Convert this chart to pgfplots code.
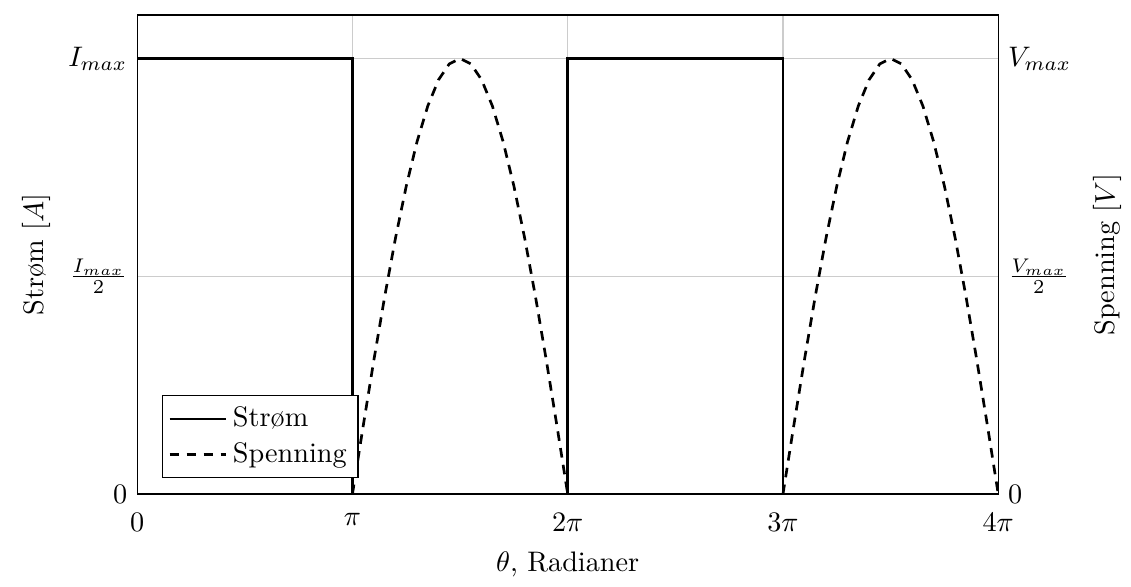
\documentclass[border=0pt]{standalone}
\usepackage{pgfplots}
\pgfplotsset{compat=1.18}
\begin{document}
\begin{tikzpicture}
\begin{axis}[
  name=main,
  width=305pt, height=169.7pt, scale only axis,
  xmin=0, xmax=4, ymin=0, ymax=1.1,
  xtick={0,1,2,3,4},
  xticklabels={$0$,$\pi$,$2\pi$,$3\pi$,$4\pi$},
  xticklabel style={yshift=-3.2pt},
  ytick={0,0.5,1},
  yticklabels={$0$,$\frac{I_{max}}{2}$,$I_{max}$},
  xmajorgrids, ymajorgrids,
  major grid style={gray!40, thin},
  major tick length=0pt,
  xlabel={$\theta$, Radianer},
  xlabel style={yshift=-0.6pt},
  ylabel={Strøm [$A$]},
  ylabel style={yshift=-0.5pt},
  legend image code/.code={\draw[#1] (0cm,0cm) -- (0.7cm,0cm);},
  legend style={at={(0.029,0.033)}, anchor=south west, draw=black, inner sep=2pt, row sep=0pt},
  legend cell align=left,
]
\addplot[black, line width=0.95pt] coordinates {(0,1) (1,1) (1,0) (2,0) (2,1) (3,1) (3,0) (4,0)};
\addlegendentry{Strøm}
\addplot[black, line width=0.95pt, dash pattern=on 3.4pt off 2.6pt] coordinates {
(1.00,0.0000) (1.05,0.1564) (1.10,0.3090) (1.15,0.4540) (1.20,0.5878) (1.25,0.7071) (1.30,0.8090) (1.35,0.8910) (1.40,0.9511) (1.45,0.9877) (1.50,1.0000)
(1.55,0.9877) (1.60,0.9511) (1.65,0.8910) (1.70,0.8090) (1.75,0.7071) (1.80,0.5878) (1.85,0.4540) (1.90,0.3090) (1.95,0.1564) (2.00,0.0000)
};
\addlegendentry{Spenning}
\addplot[black, line width=0.95pt, dash pattern=on 3.4pt off 2.6pt, forget plot] coordinates {
(3.00,0.0000) (3.05,0.1564) (3.10,0.3090) (3.15,0.4540) (3.20,0.5878) (3.25,0.7071) (3.30,0.8090) (3.35,0.8910) (3.40,0.9511) (3.45,0.9877) (3.50,1.0000)
(3.55,0.9877) (3.60,0.9511) (3.65,0.8910) (3.70,0.8090) (3.75,0.7071) (3.80,0.5878) (3.85,0.4540) (3.90,0.3090) (3.95,0.1564) (4.00,0.0000)
};
\end{axis}
\begin{axis}[
  width=305pt, height=169.7pt, scale only axis,
  xmin=0, xmax=4, ymin=0, ymax=1.1,
  axis x line=none,
  axis y line*=right,
  ytick={0,0.5,1},
  yticklabels={$0$,$\frac{V_{max}}{2}$,$V_{max}$},
  major tick length=0pt,
  ylabel={Spenning [$V$]},
  ylabel style={yshift=-1pt},
]
\addplot[draw=none] coordinates {(0,0) (4,1)};
\end{axis}
\path ([yshift=5.3pt]main.north);
\path ([xshift=-4.5pt]current bounding box.south west);
\end{tikzpicture}
\end{document}
